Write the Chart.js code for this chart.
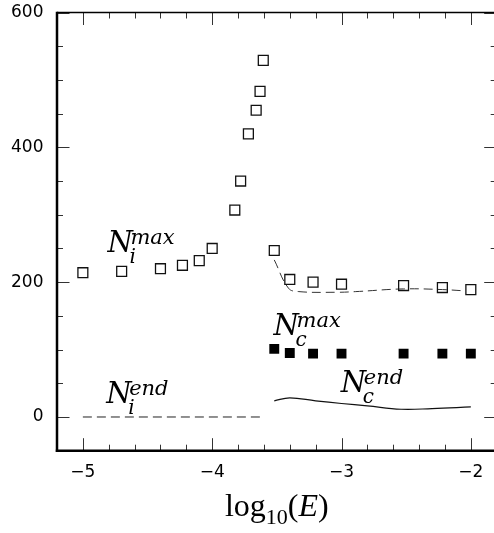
<!DOCTYPE html>
<html>
<head>
<meta charset="utf-8">
<script src="https://cdn.jsdelivr.net/npm/chart.js@4.4.1/dist/chart.umd.min.js"></script>
<style>
html, body { margin: 0; padding: 0; background: #fff; overflow: hidden; }
#wrap { width: 505px; height: 533px; }
</style>
</head>
<body>
<div id="wrap"><canvas id="chart" width="505" height="533"></canvas></div>
<script>
// N_i^max (open squares)
let openX = [-5.0, -4.7, -4.4, -4.23, -4.1, -4.0, -3.825, -3.78, -3.72, -3.66, -3.63, -3.605, -3.52, -3.4, -3.22, -3.0, -2.52, -2.22, -2.0];
let openY = [214, 216, 220, 225, 232, 250, 307, 350, 420, 455, 483, 529, 247, 204, 200, 197, 195, 192, 189];

// N_c^max (filled squares)
let filledX = [-3.52, -3.4, -3.22, -3.0, -2.52, -2.22, -2.0];
let filledY = [101, 95, 94, 94, 94, 94, 94];

// dashed curve under the open squares
let dashX = [-3.52, -3.41, -3.33, -3.04, -2.89, -2.52, -2.22, -2.04];
let dashY = [233, 191, 186, 185, 186, 190, 189, 187];

// N_i^end
let endIX = [-5.0, -3.6];
let endIY = [0, 0];

// N_c^end
let endCX = [-3.52, -3.4, -3.2, -3.0, -2.8, -2.54, -2.3, -2.0];
let endCY = [24, 28.5, 24, 20, 16.5, 11.5, 12.5, 15];

let xTicks = [-5, -4, -3, -2];
let yTicks = [0, 200, 400, 600];

let labelSup = ["max", "max", "end", "end"];
let labelSub = ["i", "c", "c", "i"];
let labelX = [-4.81, -3.525, -3.005, -4.82];
let labelY = [244, 122, 37, 21];

function toPoints(xs, ys) {
    let pts = [];
    for (let i = 0; i < xs.length; i++) {
        pts.push({ x: xs[i], y: ys[i] });
    }
    return pts;
}

function line(ctx, x1, y1, x2, y2) {
    ctx.beginPath();
    ctx.moveTo(x1, y1);
    ctx.lineTo(x2, y2);
    ctx.stroke();
}

let frameAndTicks = {
    id: "frameAndTicks",
    afterDraw: function(chart) {
        let ctx = chart.ctx;
        let xs = chart.scales.x;
        let ys = chart.scales.y;
        let a = chart.chartArea;

        ctx.save();
        ctx.strokeStyle = "#333";
        ctx.lineWidth = 1;

        for (let i = 0; i <= 17; i++) {
            let v = -5.2 + i * 0.2;
            let px = Math.round(xs.getPixelForValue(v)) + 0.5;
            let major = Math.abs(v - Math.round(v)) < 0.001;
            let len = major ? 12.5 : 6;
            line(ctx, px, a.bottom, px, a.bottom - len);
            line(ctx, px, a.top, px, a.top + len);
        }

        for (let v = -50; v <= 600; v += 50) {
            let py = Math.round(ys.getPixelForValue(v)) + 0.5;
            let len = (v % 200 === 0) ? 12.5 : 6;
            line(ctx, a.left, py, a.left + len, py);
            line(ctx, a.right, py, a.right - len, py);
        }

        ctx.strokeStyle = "#000";
        ctx.lineWidth = 1.5;
        line(ctx, a.left, a.top, a.right, a.top);
        line(ctx, a.right, a.top, a.right, a.bottom);
        ctx.lineWidth = 2.5;
        line(ctx, a.left, a.top - 0.7, a.left, a.bottom + 1.2);
        line(ctx, a.left - 1.2, a.bottom, a.right, a.bottom);

        // curve labels
        ctx.fillStyle = "#000";
        ctx.textBaseline = "alphabetic";
        ctx.textAlign = "left";
        for (let i = 0; i < labelSup.length; i++) {
            let px = xs.getPixelForValue(labelX[i]);
            let py = ys.getPixelForValue(labelY[i]);
            ctx.font = "italic 29px 'DejaVu Serif'";
            ctx.fillText("N", px, py);
            ctx.font = "italic 21px 'DejaVu Serif'";
            ctx.fillText(labelSup[i], px + 23, py - 8);
            ctx.font = "italic 20px 'DejaVu Serif'";
            ctx.fillText(labelSub[i], px + 22, py + 11);
        }

        // axis title log10(E)
        let cx = (a.left + a.right) / 2;
        let base = 516;
        let parts = [
            { t: "log", f: "32px 'Liberation Serif'", dy: 0 },
            { t: "10", f: "22px 'Liberation Serif'", dy: 8 },
            { t: "(", f: "32px 'Liberation Serif'", dy: 0 },
            { t: "E", f: "italic 32px 'Liberation Serif'", dy: 0 },
            { t: ")", f: "32px 'Liberation Serif'", dy: 0 }
        ];
        let total = 0;
        for (let i = 0; i < parts.length; i++) {
            ctx.font = parts[i].f;
            parts[i].w = ctx.measureText(parts[i].t).width;
            total += parts[i].w;
        }
        let tx = cx - total / 2;
        for (let i = 0; i < parts.length; i++) {
            ctx.font = parts[i].f;
            ctx.fillText(parts[i].t, tx, base + parts[i].dy);
            tx += parts[i].w;
        }
        ctx.restore();
    }
};

let chart = new Chart(document.getElementById("chart"), {
    type: "scatter",
    data: {
        datasets: [
            {
                label: "Ni max",
                data: toPoints(openX, openY),
                pointStyle: "rect",
                pointRadius: 7,
                pointBorderWidth: 1.3,
                borderColor: "#111",
                backgroundColor: "rgba(0,0,0,0)",
                showLine: false
            },
            {
                label: "Nc max",
                data: toPoints(filledX, filledY),
                pointStyle: "rect",
                pointRadius: 7,
                pointBorderWidth: 0,
                borderColor: "#000",
                backgroundColor: "#000",
                showLine: false
            },
            {
                label: "dashed",
                data: toPoints(dashX, dashY),
                showLine: true,
                pointRadius: 0,
                borderColor: "#333",
                borderWidth: 1,
                borderDash: [9, 5],
                tension: 0.4
            },
            {
                label: "Ni end",
                data: toPoints(endIX, endIY),
                showLine: true,
                pointRadius: 0,
                borderColor: "#222",
                borderWidth: 1,
                borderDash: [9, 5]
            },
            {
                label: "Nc end",
                data: toPoints(endCX, endCY),
                showLine: true,
                pointRadius: 0,
                borderColor: "#111",
                borderWidth: 1.2,
                tension: 0.4
            }
        ]
    },
    options: {
        responsive: false,
        animation: false,
        devicePixelRatio: 1,
        layout: {
            padding: { top: 12.5, right: 0, left: 0, bottom: 0 }
        },
        plugins: {
            legend: { display: false },
            tooltip: { enabled: false }
        },
        scales: {
            x: {
                type: "linear",
                min: -5.2,
                max: -1.8,
                grid: { display: false, drawTicks: false },
                border: { display: false },
                afterBuildTicks: function(scale) {
                    scale.ticks = xTicks.map(function(v) { return { value: v }; });
                },
                afterFit: function(scale) {
                    scale.height = 82.3;
                    scale.paddingLeft = 0;
                    scale.paddingRight = 0;
                },
                ticks: {
                    padding: 12,
                    color: "#000",
                    font: { family: "DejaVu Sans", size: 17 },
                    callback: function(v) {
                        return v < 0 ? "\u2212" + Math.abs(v) : String(v);
                    }
                }
            },
            y: {
                type: "linear",
                min: -50,
                max: 600,
                grid: { display: false, drawTicks: false },
                border: { display: false },
                afterBuildTicks: function(scale) {
                    scale.ticks = yTicks.map(function(v) { return { value: v }; });
                },
                afterFit: function(scale) {
                    scale.width = 57;
                    scale.paddingTop = 0;
                    scale.paddingBottom = 0;
                },
                ticks: {
                    padding: 13.5,
                    color: "#000",
                    font: { family: "DejaVu Sans", size: 17 }
                }
            }
        }
    },
    plugins: [frameAndTicks]
});
</script>
</body>
</html>
